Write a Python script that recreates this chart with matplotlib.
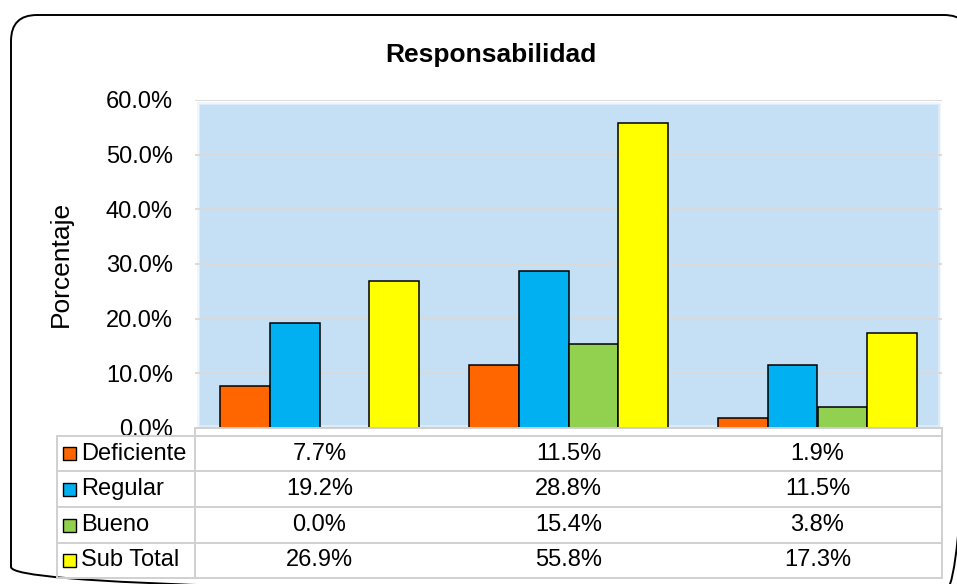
import matplotlib
matplotlib.use("Agg")
import matplotlib.pyplot as plt
from matplotlib.patches import Rectangle, FancyBboxPatch
from matplotlib import transforms

plt.rcParams['font.family'] = ['Liberation Sans', 'DejaVu Sans']

# Data
categories = ["", "", ""]
series_names = ["Deficiente", "Regular", "Bueno", "Sub Total"]
deficiente = [7.7, 11.5, 1.9]
regular = [19.2, 28.8, 11.5]
bueno = [0.0, 15.4, 3.8]
sub_total = [26.9, 55.8, 17.3]
series_values = [deficiente, regular, bueno, sub_total]
series_colors = ["#FF6600", "#00B0F0", "#92D050", "#FFFF00"]
yticks = [0, 10, 20, 30, 40, 50, 60]

W, H = 957, 584
fig = plt.figure(figsize=(W / 100, H / 100), dpi=100)


def fbox(x0, y0, x1, y1):
    return [x0 / W, 1 - y1 / H, (x1 - x0) / W, (y1 - y0) / H]


# Overlay in pixel coordinates for frame, table and free text
ov = fig.add_axes([0, 0, 1, 1], zorder=5)
ov.set_xlim(0, W)
ov.set_ylim(H, 0)
ov.axis("off")
ov.patch.set_alpha(0)

# Main plotting area
ax = fig.add_axes(fbox(195, 100, 942, 428), zorder=2)
ax.set_xlim(-0.5, len(categories) - 0.5)
ax.set_ylim(0, 60)
for s in ax.spines.values():
    s.set_visible(False)
ax.patch.set_alpha(0)

# Light blue plot background with a soft edge
for grow, alpha in [(3, 0.25), (1.5, 0.45), (0, 1.0)]:
    ax.add_patch(Rectangle(((5 - grow) / 747, (3 - grow) / 328),
                           (738 + 2 * grow) / 747, (320 + 2 * grow) / 328,
                           transform=ax.transAxes, facecolor="#C5DFF5",
                           alpha=alpha, edgecolor="none", zorder=0.1))

ax.set_yticks(yticks)
ax.set_yticklabels([f"{v:.1f}%" for v in yticks], fontsize=17)
ax.tick_params(axis="y", length=0, pad=16)
ax.set_xticks([])
ax.yaxis.grid(True, color="#D9D9D9", linewidth=1.3)
ax.set_axisbelow(True)

bw = 0.2
for k, (vals, col) in enumerate(zip(series_values, series_colors)):
    xs = [i + (k - 1.5) * bw for i in range(len(categories))]
    ax.bar(xs, vals, width=bw, color=col, edgecolor="black",
           linewidth=1.1, zorder=3)

# Title and axis label
ov.text(491, 55, "Responsabilidad", fontsize=19, fontweight="bold",
        ha="center", va="center")
ov.text(61, 264, "Porcentaje", fontsize=19, rotation=90,
        ha="center", va="center")

# Data table
gc = "#D0D0D0"
lw = 1.4
ov.plot([195, 942], [428, 428], color=gc, lw=lw)
row_lines = [436, 471, 507, 543, 578]
for y in row_lines:
    ov.plot([57, 942], [y, y], color=gc, lw=lw)
ov.plot([57, 57], [436, 578], color=gc, lw=lw)
ov.plot([195, 195], [428, 578], color=gc, lw=lw)
ov.plot([942, 942], [428, 578], color=gc, lw=lw)

mix = transforms.blended_transform_factory(ax.transData, ov.transData)
for r, (name, vals, col) in enumerate(zip(series_names, series_values, series_colors)):
    yc = (row_lines[r] + row_lines[r + 1]) / 2
    ov.add_patch(Rectangle((63, yc - 6.5), 13, 13, facecolor=col,
                           edgecolor="black", linewidth=1.0))
    ov.text(81, yc, name, fontsize=17, ha="left", va="center")
    for i, v in enumerate(vals):
        ov.text(i, yc, f"{v:.1f}%", fontsize=17, ha="center", va="center",
                transform=mix)

# Rounded chart frame
ov.add_patch(FancyBboxPatch((11, 15), 959, 578,
                            boxstyle="round,pad=0,rounding_size=26",
                            facecolor="none", edgecolor="black",
                            linewidth=1.4, clip_on=False))

fig.savefig("out.png", dpi=100)
